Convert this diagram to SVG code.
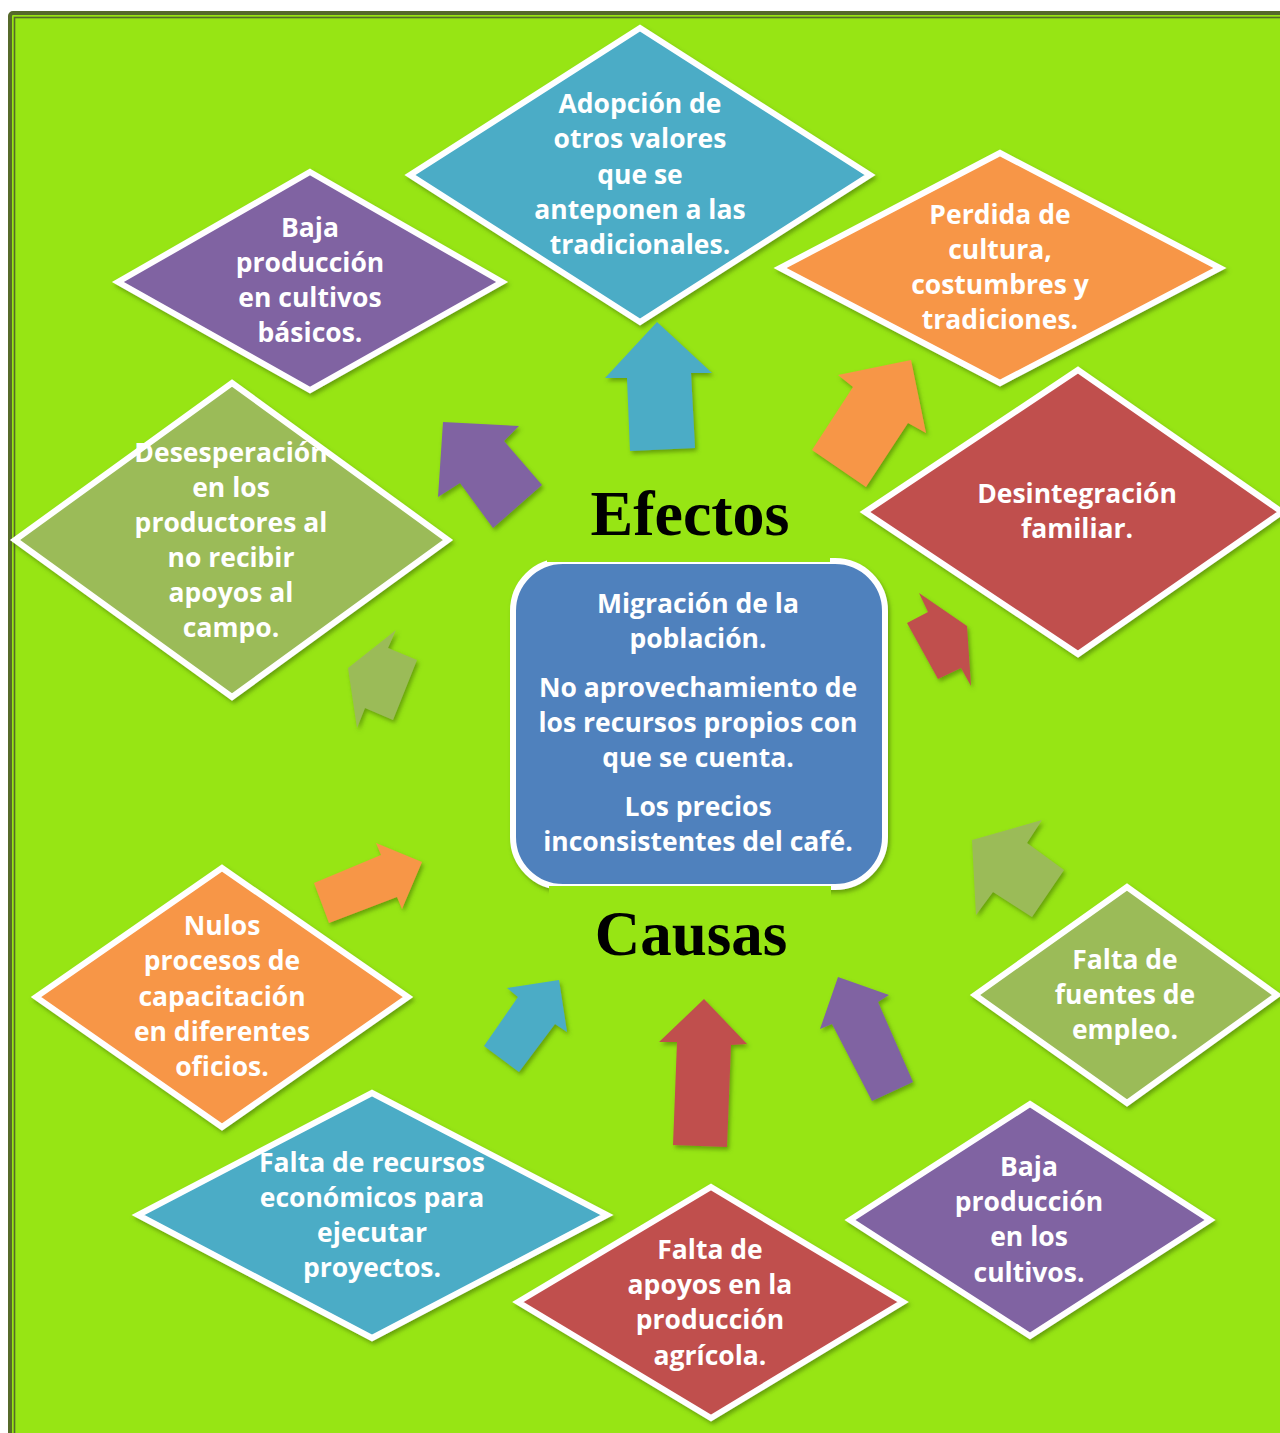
<svg xmlns="http://www.w3.org/2000/svg" width="1280" height="1433" viewBox="0 0 1280 1433">
<defs>
<style>
.d{stroke:#fff;stroke-width:6;stroke-linejoin:miter;filter:url(#sh)}
.a{filter:url(#sh)}
.t{font-family:"Open Sans","Liberation Sans",sans-serif;font-weight:bold;font-size:26.5px;fill:#fff;text-anchor:middle}
.h{font-family:"Liberation Serif","Times New Roman",serif;font-weight:bold;fill:#000;text-anchor:middle}
.blue{fill:#4BACC6}.purple{fill:#8064A2}.orange{fill:#F79646}.red{fill:#C0504D}.olive{fill:#9BBB59}
</style>
<filter id="sh" x="-20%" y="-20%" width="140%" height="140%">
<feDropShadow dx="2" dy="3" stdDeviation="2" flood-color="#3f6a00" flood-opacity="0.55"/>
</filter>
</defs>
<rect x="0" y="0" width="1280" height="1433" fill="#fff"/>
<rect x="10" y="13" width="1300" height="1450" rx="3" fill="#97E514" stroke="#566A2A" stroke-width="4"/>
<rect x="14.5" y="17.5" width="1300" height="1450" fill="none" stroke="#566A2A" stroke-width="1.6"/>

<g id="connectors">
<polygon class="a blue" points="657,322 712,373 691,373 695,448 630,451 627,378 605,378"/>
<polygon class="a purple" points="443,422 519,426 504,441 542,485 493,528 460,483 438,497"/>
<polygon class="a orange" points="911,360 926,433 908,423 866,487 812,450 853,387 838,375"/>
<polygon class="a red" points="919,593 967,626 971,686 961,668 938,679 907,623 928,612"/>
<polygon class="a olive" points="396,630 388,648 417,660 393,720 365,708 357,728 348,668"/>
<polygon class="a olive" points="972,840 1042,820 1027,843 1064,870 1032,917 993,892 976,915"/>
<polygon class="a orange" points="422,862 402,909 397,897 329,923 314,883 381,855 376,843"/>
<polygon class="a blue" points="559,980 567,1032 555,1024 519,1072 484,1046 518,997 507,988"/>
<polygon class="a red" points="704,999 747,1044 731,1045 727,1147 673,1145 677,1042 659,1042"/>
<polygon class="a purple" points="838,977 889,995 878,1002 913,1082 872,1101 832,1024 820,1029"/>
</g>

<g id="n-adopcion">
<polygon class="d blue" points="640,28 870,175 640,322 410,175"/>
<text class="t" x="640" y="113">Adopción de</text>
<text class="t" x="640" y="148">otros valores</text>
<text class="t" x="640" y="184">que se</text>
<text class="t" x="640" y="219">anteponen a las</text>
<text class="t" x="640" y="254">tradicionales.</text>
</g>

<g id="n-baja-basicos">
<polygon class="d purple" points="310,172 502,282 310,390 118,282"/>
<text class="t" x="310" y="237">Baja</text>
<text class="t" x="310" y="272">producción</text>
<text class="t" x="310" y="307">en cultivos</text>
<text class="t" x="310" y="342">básicos.</text>
</g>

<g id="n-perdida">
<polygon class="d orange" points="1000,153 1220,268 1000,383 780,268"/>
<text class="t" x="1000" y="224">Perdida de</text>
<text class="t" x="1000" y="259">cultura,</text>
<text class="t" x="1000" y="294">costumbres y</text>
<text class="t" x="1000" y="329">tradiciones.</text>
</g>

<g id="n-desintegracion">
<polygon class="d red" points="1078,370 1282,512 1078,654 865,512"/>
<text class="t" x="1077" y="503">Desintegración</text>
<text class="t" x="1077" y="538">familiar.</text>
</g>

<g id="n-desesperacion">
<polygon class="d olive" points="232,383 448,540 232,697 15,540"/>
<text class="t" x="231" y="462">Desesperación</text>
<text class="t" x="231" y="497">en los</text>
<text class="t" x="231" y="532">productores al</text>
<text class="t" x="231" y="567">no recibir</text>
<text class="t" x="231" y="602">apoyos al</text>
<text class="t" x="231" y="637">campo.</text>
</g>

<g id="n-centro">
<rect x="513" y="561" width="372" height="326" rx="50" fill="#4F81BD" stroke="#fff" stroke-width="6" filter="url(#sh)"/>
<text class="t" x="698" y="613">Migración de la</text>
<text class="t" x="698" y="648">población.</text>
<text class="t" x="698" y="697">No aprovechamiento de</text>
<text class="t" x="698" y="732">los recursos propios con</text>
<text class="t" x="698" y="767">que se cuenta.</text>
<text class="t" x="698" y="816">Los precios</text>
<text class="t" x="698" y="851">inconsistentes del café.</text>
</g>

<g id="n-efectos">
<rect x="547" y="470" width="283" height="92" fill="#97E514"/>
<text class="h" x="690" y="535" font-size="64">Efectos</text>
</g>

<g id="n-causas">
<rect x="549" y="886" width="282" height="90" fill="#97E514"/>
<text class="h" x="691" y="955" font-size="63">Causas</text>
</g>

<g id="n-nulos">
<polygon class="d orange" points="222,868 408,997 222,1127 36,997"/>
<text class="t" x="222" y="935">Nulos</text>
<text class="t" x="222" y="970">procesos de</text>
<text class="t" x="222" y="1006">capacitación</text>
<text class="t" x="222" y="1041">en diferentes</text>
<text class="t" x="222" y="1076">oficios.</text>
</g>

<g id="n-fuentes">
<polygon class="d olive" points="1127,887 1277,995 1127,1103 975,995"/>
<text class="t" x="1125" y="969">Falta de</text>
<text class="t" x="1125" y="1004">fuentes de</text>
<text class="t" x="1125" y="1039">empleo.</text>
</g>

<g id="n-recursos">
<polygon class="d blue" points="372,1093 607,1215 372,1338 138,1215"/>
<text class="t" x="372" y="1172">Falta de recursos</text>
<text class="t" x="372" y="1207">económicos para</text>
<text class="t" x="372" y="1242">ejecutar</text>
<text class="t" x="372" y="1277">proyectos.</text>
</g>

<g id="n-apoyos">
<polygon class="d red" points="711,1187 903,1302 711,1418 518,1302"/>
<text class="t" x="710" y="1259">Falta de</text>
<text class="t" x="710" y="1294">apoyos en la</text>
<text class="t" x="710" y="1329">producción</text>
<text class="t" x="710" y="1365">agrícola.</text>
</g>

<g id="n-baja-cultivos">
<polygon class="d purple" points="1030,1104 1210,1220 1030,1336 850,1220"/>
<text class="t" x="1029" y="1176">Baja</text>
<text class="t" x="1029" y="1211">producción</text>
<text class="t" x="1029" y="1246">en los</text>
<text class="t" x="1029" y="1282">cultivos.</text>
</g>
</svg>
